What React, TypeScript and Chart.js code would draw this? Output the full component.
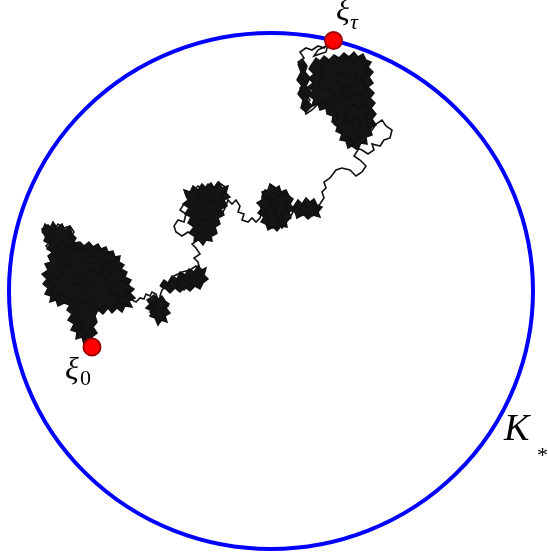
import React, { useEffect, useRef } from "react";
import { Chart, registerables } from "chart.js";

Chart.register(...registerables);

// Coordinates: origin at the centre of the boundary K*, x to the right, y upward.

// Traced Brownian path, from xi_0 to xi_tau
const pathTail: [number, number][] = [
  [-179, -56], [-182, -51], [-185, -53], [-188, -47], [-184, -43], [-191, -40], [-187, -36],
  [-194, -33], [-189, -29], [-196, -26], [-192, -21], [-199, -18], [-194, -14], [-200, -10], [-196, -6],
];
const pathLeftBlob: [number, number][] = [
  [-203, -9], [-209, -4], [-216, -6], [-221, 1], [-215, 5], [-223, 10], [-218, 15], [-211, 12],
  [-207, 19], [-215, 23], [-209, 29], [-201, 25], [-203, 33], [-211, 37], [-219, 39], [-225, 45],
  [-219, 51], [-226, 55], [-229, 62], [-223, 66], [-217, 61], [-213, 67], [-207, 63], [-201, 65],
  [-197, 59], [-201, 53], [-195, 47], [-203, 43], [-209, 49], [-215, 45], [-209, 41], [-199, 39],
  [-191, 43], [-185, 39], [-179, 45], [-171, 41], [-165, 37], [-159, 39], [-155, 31], [-161, 27],
  [-153, 23], [-147, 17], [-151, 11], [-143, 7], [-139, 1], [-145, -3], [-141, -9], [-147, -15],
  [-153, -11], [-159, -17], [-165, -13], [-171, -19], [-177, -15], [-183, -9], [-189, -13], [-193, -5],
  [-185, -1], [-179, 5], [-187, 9], [-195, 5], [-201, 11], [-195, 17], [-187, 15], [-181, 21],
  [-173, 17], [-165, 23], [-171, 29], [-179, 27], [-185, 33], [-177, 35], [-167, 31], [-159, 19],
  [-165, 11], [-157, 5], [-163, -3], [-153, -5], [-145, -7], [-139, -9],
];
const pathLowerMiddle: [number, number][] = [
  [-135, -11], [-131, -7], [-127, -8], [-125, -3], [-121, -5], [-119, -1], [-115, -3],
  [-113, -9], [-119, -13], [-115, -17], [-121, -21], [-115, -25], [-111, -31], [-107, -27], [-109, -19],
  [-103, -15], [-107, -9], [-111, -5], [-109, 1],
  [-105, 5], [-101, 11], [-95, 7], [-91, 13], [-85, 9], [-81, 15], [-75, 11], [-71, 17], [-67, 13],
  [-73, 5], [-81, 7], [-87, 1], [-93, 5], [-99, 1], [-103, 7], [-97, 15], [-89, 19], [-81, 21],
  [-75, 25], [-71, 21],
  [-73, 29], [-77, 33], [-71, 37], [-75, 43], [-79, 47], [-73, 51],
];
const pathMiddleBlob: [number, number][] = [
  [-77, 55], [-83, 59], [-89, 55], [-95, 59], [-97, 65], [-93, 71], [-87, 69], [-85, 77], [-91, 81],
  [-87, 87], [-81, 91], [-83, 97], [-77, 101], [-73, 105], [-67, 101], [-63, 107], [-57, 103],
  [-53, 109], [-47, 105], [-45, 99], [-51, 95], [-47, 89], [-53, 85], [-59, 91], [-65, 87], [-71, 93],
  [-75, 85], [-67, 79], [-61, 81], [-57, 75], [-63, 69], [-69, 73], [-75, 67], [-67, 61], [-59, 63],
  [-55, 57], [-63, 53], [-71, 55], [-77, 63], [-81, 71], [-75, 79], [-79, 85], [-71, 99], [-61, 95],
  [-55, 81], [-49, 77], [-45, 85], [-43, 91],
  [-39, 87], [-35, 91], [-31, 85], [-33, 79], [-27, 77], [-29, 71], [-23, 69], [-19, 73], [-15, 69], [-11, 73],
  [-9, 79], [-11, 87], [-7, 93], [-9, 99], [-3, 101], [-1, 107], [5, 103], [3, 97], [9, 95], [15, 99],
  [19, 93], [13, 87], [17, 81], [11, 77], [13, 69], [7, 65], [1, 63], [-5, 67], [-1, 73], [-7, 77],
  [-1, 85], [5, 81], [9, 87], [3, 91], [-3, 93], [5, 75], [11, 63], [17, 71],
];
const pathUpperMiddle: [number, number][] = [
  [21, 77], [25, 85], [29, 81], [33, 87], [37, 83], [41, 89], [45, 85], [47, 79], [41, 75], [35, 79],
  [29, 75], [25, 73], [39, 79], [45, 83], [49, 87], [53, 93], [51, 99], [55, 103], [53, 109], [59, 113],
  [65, 121], [71, 123], [79, 121], [85, 115], [91, 119], [95, 125], [89, 131], [83, 135], [87, 141], [81, 145],
  [91, 141], [97, 137], [103, 141], [101, 147], [109, 145], [113, 151], [119, 153], [121, 161], [115, 165],
  [111, 171], [105, 167], [101, 161], [97, 165],
];
const pathTopBlob: [number, number][] = [
  [95, 173], [99, 181], [93, 187], [99, 195], [95, 203], [91, 211], [97, 219], [95, 227], [89, 233],
  [83, 229], [79, 235], [73, 231], [67, 233], [63, 227], [55, 229], [49, 223], [53, 215], [47, 209],
  [51, 201], [59, 203], [65, 197], [59, 191], [53, 187], [61, 181], [67, 175], [63, 167], [71, 161],
  [77, 153], [83, 149], [89, 153], [85, 161], [91, 167], [85, 173], [79, 167], [73, 173], [77, 181],
  [83, 187], [89, 181], [93, 195], [85, 199], [79, 193], [71, 195], [75, 203], [83, 207], [87, 215],
  [81, 221], [75, 215], [69, 219], [63, 211], [71, 207], [67, 187], [73, 187], [47, 187],
  [41, 181], [35, 177], [33, 185], [39, 191], [33, 197], [29, 203], [35, 209], [29, 215], [33, 223],
  [27, 229], [33, 233],
  [29, 239], [35, 243], [41, 241], [47, 245], [53, 243], [57, 247], [55, 239], [49, 237], [43, 235],
  [47, 241], [55, 245], [59, 249], [63, 250],
];

// Dense cores of the path (where the trace is nearly solid), ragged outlines
const coreLeft: [number, number][] = [
  [-229, 59], [-226, 67], [-221, 63], [-218, 69], [-214, 63], [-209, 67], [-206, 61], [-201, 64],
  [-199, 57], [-195, 53], [-198, 48], [-191, 49], [-187, 45], [-182, 49], [-178, 44], [-173, 47],
  [-170, 42], [-165, 44], [-163, 39], [-158, 40], [-156, 34], [-151, 35], [-152, 29], [-147, 26],
  [-150, 22], [-144, 19], [-146, 14], [-140, 11], [-143, 6], [-137, 2], [-141, -2], [-136, -7],
  [-142, -10], [-139, -16], [-146, -15], [-149, -21], [-154, -17], [-159, -22], [-163, -17], [-168, -23],
  [-173, -19], [-176, -25], [-174, -31], [-178, -36], [-174, -42], [-179, -46], [-177, -51], [-183, -49],
  [-187, -53], [-189, -46], [-195, -48], [-194, -41], [-200, -39], [-197, -33], [-203, -29], [-199, -23],
  [-204, -19], [-201, -14], [-207, -12], [-213, -15], [-215, -9], [-221, -11], [-220, -5], [-226, -3],
  [-223, 3], [-228, 7], [-224, 12], [-229, 17], [-223, 21], [-226, 27], [-220, 29], [-223, 35],
  [-218, 39], [-224, 42], [-221, 47], [-227, 50], [-225, 55], [-229, 59],
];
const coreSmall: [number, number][] = [
  [-121, -7], [-117, -4], [-113, -8], [-109, -5], [-106, -10], [-102, -13], [-105, -17], [-101, -22],
  [-106, -25], [-104, -31], [-110, -29], [-113, -34], [-116, -27], [-121, -25], [-119, -20], [-125, -17],
  [-121, -13], [-124, -9], [-121, -7],
];
const coreLowerCluster: [number, number][] = [
  [-111, 5], [-107, 11], [-103, 8], [-99, 15], [-94, 12], [-91, 19], [-86, 16], [-82, 22], [-77, 19],
  [-73, 25], [-69, 21], [-65, 23], [-67, 16], [-63, 12], [-68, 8], [-71, 2], [-76, 5], [-81, 0],
  [-86, 4], [-91, -1], [-96, 3], [-101, -2], [-105, 2], [-111, 5],
];
const coreMiddleA: [number, number][] = [
  [-85, 95], [-87, 101], [-81, 99], [-78, 105], [-73, 101], [-69, 107], [-65, 103], [-60, 108],
  [-57, 103], [-52, 109], [-49, 103], [-43, 105], [-45, 98], [-41, 94], [-47, 91], [-44, 85],
  [-50, 82], [-47, 76], [-53, 73], [-51, 67], [-56, 64], [-54, 58], [-60, 56], [-59, 50], [-65, 51],
  [-68, 46], [-72, 51], [-77, 50], [-76, 56], [-81, 59], [-77, 64], [-83, 68], [-80, 74], [-86, 77],
  [-82, 83], [-88, 87], [-83, 91], [-85, 95],
];
const coreMiddleB: [number, number][] = [
  [-9, 95], [-6, 101], [-2, 99], [0, 106], [4, 102], [8, 105], [10, 99], [15, 101], [18, 95], [22, 92],
  [19, 87], [23, 82], [18, 79], [20, 73], [15, 70], [16, 64], [10, 65], [6, 60], [2, 64], [-3, 61],
  [-5, 67], [-10, 69], [-7, 74], [-13, 78], [-9, 83], [-14, 88], [-9, 91], [-9, 95],
];
const coreUpperCluster: [number, number][] = [
  [23, 85], [27, 91], [31, 87], [35, 93], [39, 89], [43, 92], [46, 86], [51, 84], [47, 79], [49, 74],
  [42, 76], [37, 72], [32, 77], [26, 73], [24, 79], [19, 81], [23, 85],
];
const coreTop: [number, number][] = [
  [41, 227], [45, 233], [49, 230], [53, 235], [58, 231], [63, 236], [68, 233], [73, 238], [78, 234],
  [83, 239], [87, 234], [92, 237], [95, 231], [100, 229], [97, 224], [102, 219], [98, 214], [102, 208],
  [97, 204], [103, 198], [99, 193], [104, 188], [100, 183], [105, 177], [101, 172], [105, 166], [99, 163],
  [101, 156], [95, 154], [96, 147], [90, 148], [87, 142], [82, 146], [77, 143], [75, 150], [69, 151],
  [71, 157], [65, 160], [67, 166], [61, 169], [62, 175], [56, 177], [55, 183], [49, 181], [47, 187],
  [41, 185], [43, 192], [38, 195], [42, 200], [37, 204], [42, 208], [38, 213], [43, 217], [38, 222], [41, 227],
];
const coreTopLeftEdge: [number, number][] = [
  [27, 227], [32, 231], [36, 225], [34, 219], [39, 213], [35, 205], [40, 199], [36, 191], [41, 185],
  [35, 179], [30, 183], [32, 191], [27, 197], [31, 205], [26, 211], [30, 219], [27, 227],
];

// Start and exit points
const startPoint: [number, number] = [-179, -56];
const exitPoint: [number, number] = [62.5, 250.5];

// Boundary K*
const boundaryCenter: [number, number] = [0, 0];
const boundaryRadiusX = 262;
const boundaryRadiusY = 258;

// Axis extents
const xMin = -271, xMax = 277;
const yMin = -262, yMax = 291;

// Labels
const labelTexts = ["ξ", "0", "ξ", "τ", "K", "*"];
const labelX = [-206, -191, 65, 79, 233, 266];
const labelY = [-88, -94, 271, 262, -149, -171];
const labelFonts = [
  "italic 32px 'Liberation Serif'",
  "22px 'Liberation Serif'",
  "italic 32px 'Liberation Serif'",
  "italic 22px 'Liberation Serif'",
  "italic 38px 'Liberation Serif'",
  "22px 'Liberation Serif'",
];

const toXY = (pts: [number, number][]) => pts.map(([x, y]) => ({ x, y }));

export default function App() {
  const ref = useRef<HTMLCanvasElement | null>(null);
  useEffect(() => {
    if (!ref.current) return;
    const fullPath = [
      ...pathTail, ...pathLeftBlob, ...pathLowerMiddle, ...pathMiddleBlob, ...pathUpperMiddle, ...pathTopBlob,
    ];
    const cores = [
      coreLeft, coreSmall, coreLowerCluster, coreMiddleA, coreMiddleB, coreUpperCluster, coreTop, coreTopLeftEdge,
    ];

    const boundaryPlugin = {
      id: "boundary",
      beforeDatasetsDraw(chart: any) {
        const { ctx, scales } = chart;
        const cx = scales.x.getPixelForValue(boundaryCenter[0]);
        const cy = scales.y.getPixelForValue(boundaryCenter[1]);
        const rx = Math.abs(scales.x.getPixelForValue(boundaryCenter[0] + boundaryRadiusX) - cx);
        const ry = Math.abs(scales.y.getPixelForValue(boundaryCenter[1] + boundaryRadiusY) - cy);
        ctx.save();
        ctx.beginPath();
        ctx.ellipse(cx, cy, rx, ry, 0, 0, Math.PI * 2);
        ctx.strokeStyle = "#0000ff";
        ctx.lineWidth = 4;
        ctx.stroke();
        ctx.restore();
      },
    };
    const labelPlugin = {
      id: "labels",
      afterDraw(chart: any) {
        const { ctx, scales } = chart;
        ctx.save();
        ctx.fillStyle = "#000";
        ctx.textAlign = "left";
        ctx.textBaseline = "alphabetic";
        labelTexts.forEach((t, i) => {
          ctx.font = labelFonts[i];
          ctx.fillText(t, scales.x.getPixelForValue(labelX[i]), scales.y.getPixelForValue(labelY[i]));
        });
        ctx.restore();
      },
    };

    const chart = new Chart(ref.current, {
      type: "scatter",
      data: {
        datasets: [
          {
            data: toXY([startPoint, exitPoint]),
            pointRadius: 8.5,
            pointBackgroundColor: "#ff0000",
            pointBorderColor: "#a00000",
            pointBorderWidth: 2,
            showLine: false,
          },
          {
            data: toXY(fullPath),
            showLine: true,
            borderColor: "#111111",
            borderWidth: 1.6,
            pointRadius: 0,
            tension: 0,
            fill: false,
          },
          ...cores.map((c) => ({
            data: toXY(c),
            showLine: true,
            borderColor: "#111111",
            borderWidth: 1.5,
            backgroundColor: "#151515",
            pointRadius: 0,
            tension: 0,
            fill: "shape" as any,
          })),
        ],
      },
      options: {
        animation: false,
        responsive: false,
        maintainAspectRatio: false,
        layout: { padding: 0, autoPadding: false },
        plugins: { legend: { display: false }, tooltip: { enabled: false } },
        scales: {
          x: { type: "linear", min: xMin, max: xMax, display: false },
          y: { type: "linear", min: yMin, max: yMax, display: false },
        },
      },
      plugins: [boundaryPlugin, labelPlugin],
    });
    return () => chart.destroy();
  }, []);

  return (
    <div style={{ position: "fixed", left: 0, top: 0, width: 548, height: 553, background: "#fff" }}>
      <canvas ref={ref} width={548} height={553} style={{ display: "block" }} />
    </div>
  );
}
